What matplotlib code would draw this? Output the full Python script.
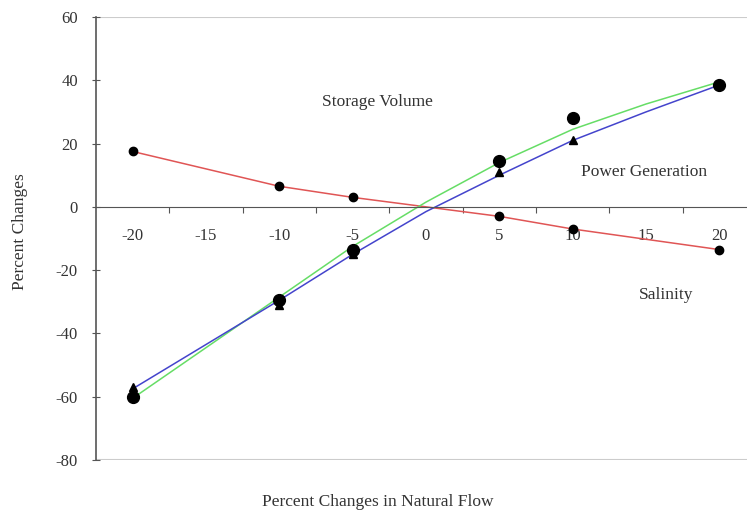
import matplotlib
matplotlib.use("Agg")
import matplotlib.pyplot as plt

plt.rcParams['font.family'] = ['Liberation Serif', 'DejaVu Serif']
plt.rcParams['axes.unicode_minus'] = False

# measured points
flow = [-20, -10, -5, 5, 10, 20]
salinity = [17.5, 6.5, 3, -3, -7, -13.5]
storage = [-60, -29.5, -13.5, 14.5, 28, 38.5]
power = [-57, -31, -15, 11, 21, 39]

# trend lines
fit_x = [-20, -15, -10, -5, 0, 5, 10, 15, 20]
storage_fit = [-60.5, -44.5, -28.5, -12.5, 1.5, 14, 24.5, 32.5, 39.5]
power_fit = [-57.5, -43.5, -29.5, -15, -1.5, 10, 21, 30, 38.5]

xlabels = [-20, -15, -10, -5, 0, 5, 10, 15, 20]
yticks = [-80, -60, -40, -20, 0, 20, 40, 60]

txt = '#333333'
fig = plt.figure(figsize=(7.47, 5.15), dpi=100)
ax = fig.add_axes([96/747, 1 - 460/515, 660/747, 443/515])

ax.plot(flow, salinity, color='#e05555', lw=1.1, zorder=2)
ax.plot(fit_x, storage_fit, color='#66dd66', lw=1.1, zorder=2)
ax.plot(fit_x, power_fit, color='#4444cc', lw=1.1, zorder=2)
ax.plot(flow, storage, 'o', color='black', ms=8.5, zorder=4)
ax.plot(flow, power, '^', color='black', ms=5.5, zorder=5)
ax.plot(flow, salinity, 'o', color='black', ms=6, zorder=4)

ax.set_xlim(-22.5, 22.5)
ax.set_ylim(-80, 60)

# box lines top and bottom
ax.axhline(60, color='#cccccc', lw=1.5, zorder=1)
ax.axhline(-80, color='#cccccc', lw=1.5, zorder=1)

ax.spines['bottom'].set_position(('data', 0))
ax.spines['bottom'].set_color('#555555')
ax.spines['left'].set_color('#555555')
ax.spines['left'].set_linewidth(1.2)
ax.spines['top'].set_visible(False)
ax.spines['right'].set_visible(False)

ax.set_xticks([-17.5, -12.5, -7.5, -2.5, 2.5, 7.5, 12.5, 17.5])
ax.set_xticklabels([])
ax.set_xticks(xlabels, minor=True)
ax.set_xticklabels([str(v) for v in xlabels], minor=True)
ax.tick_params(axis='x', which='major', direction='out', length=4, color='#555555')
ax.tick_params(axis='x', which='minor', length=0, pad=15, labelsize=12, labelcolor=txt)

ax.set_yticks(yticks)
ax.tick_params(axis='y', direction='inout', length=6, color='#555555', labelsize=12,
               labelcolor=txt, pad=10)

ax.text(-3.3, 33, 'Storage Volume', fontsize=12.5, color=txt, ha='center', va='center')
ax.text(14.9, 11, 'Power Generation', fontsize=12.5, color=txt, ha='center', va='center')
ax.text(16.4, -28, 'Salinity', fontsize=12.5, color=txt, ha='center', va='center')

fig.text(378/747, 1 - 502/515, 'Percent Changes in Natural Flow', fontsize=12.5,
         color=txt, ha='center', va='center')
fig.text(20/747, 1 - 232/515, 'Percent Changes', fontsize=12.5, color=txt,
         ha='center', va='center', rotation=90)

fig.savefig('out.png', dpi=100)
